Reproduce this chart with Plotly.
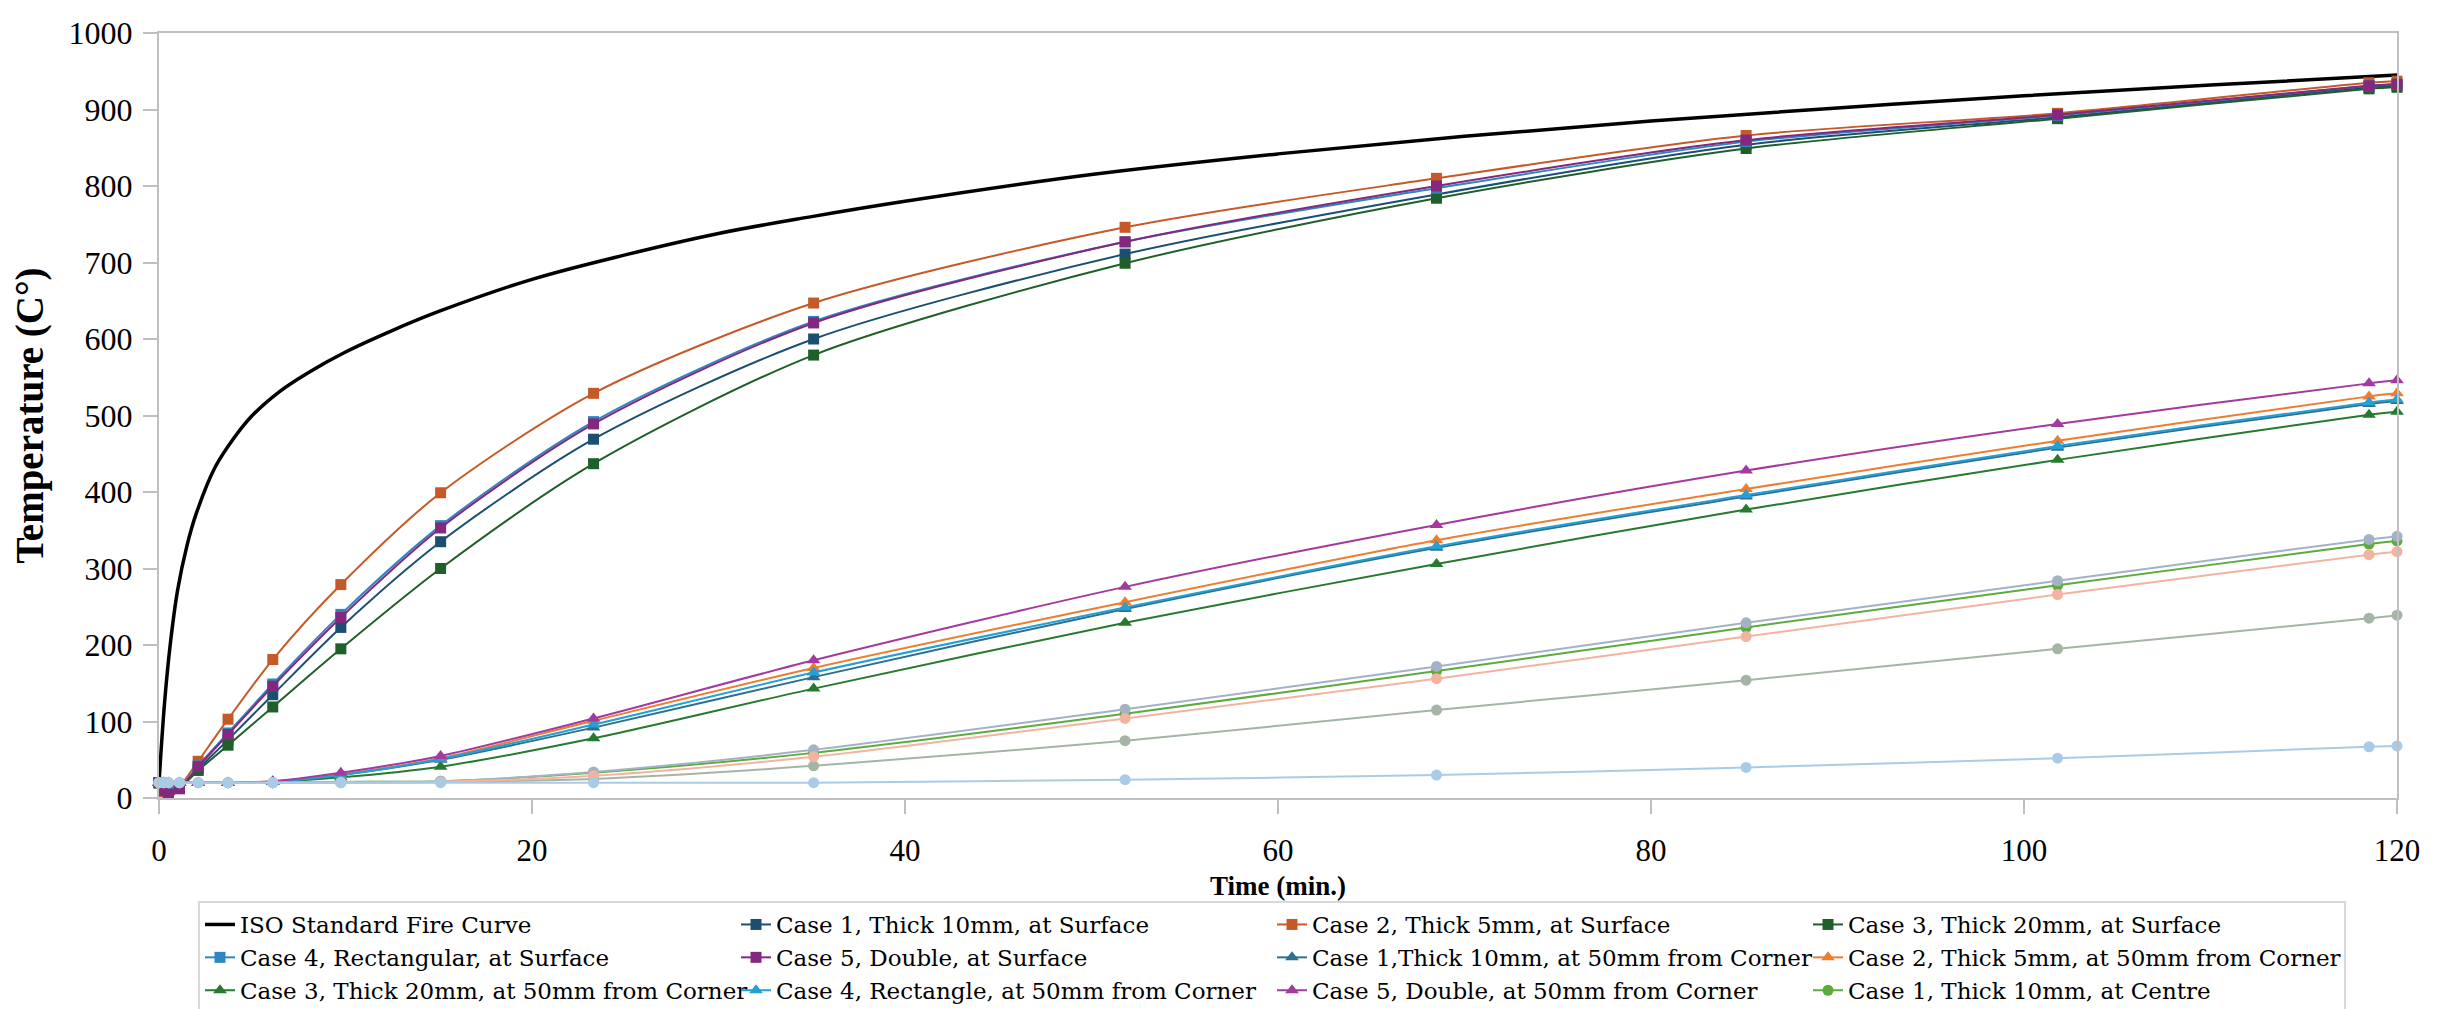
import plotly.graph_objects as go

# ---------------- data ----------------
time_iso = [0, 0.3, 0.6, 1.0, 1.5, 2, 3, 4, 5, 6.5, 8, 10, 12.5, 15, 20, 25, 30,
            35, 40, 50, 60, 70, 80, 90, 100, 110, 120]
iso_curve = [20, 125, 200, 272, 330, 372, 432, 470, 500, 532, 556, 583, 611, 636,
             678, 710, 738, 760, 780, 815, 842, 865, 885, 902, 918, 932, 945]

time_min = [0, 0.25, 0.5, 1.1, 2.1, 3.7, 6.1, 9.75, 15.1, 23.3, 35.1, 51.8, 68.5,
            85.1, 101.8, 118.5, 120]

case1_surface = [20, 12, 8, 13, 38, 76, 135, 223, 335, 469, 600, 711, 789, 854, 890, 929, 931]
case2_surface = [20, 8, -2, 14, 48, 103, 181, 279, 399, 529, 647, 746, 810, 866, 895, 935, 937]
case3_surface = [20, 12, 8, 13, 36, 69, 119, 195, 300, 437, 579, 699, 784, 849, 888, 927, 929]
case4_surface = [20, 12, 8, 13, 42, 85, 149, 240, 356, 492, 623, 727, 797, 858, 892, 931, 933]
case5_surface = [20, 10, 5, 12, 41, 83, 146, 236, 353, 489, 621, 727, 800, 860, 893, 931, 933]

case1_corner = [20, 20, 20, 20, 20, 20, 21, 30, 50, 92, 158, 247, 327, 394, 458, 515, 519]
case2_corner = [20, 20, 20, 20, 20, 20, 22, 31, 52, 101, 170, 256, 337, 404, 467, 525, 529]
case3_corner = [20, 20, 20, 20, 20, 20, 21, 27, 41, 78, 143, 229, 306, 377, 442, 501, 505]
case4_corner = [20, 20, 20, 20, 20, 20, 21, 30, 51, 96, 164, 249, 329, 396, 460, 517, 521]
case5_corner = [20, 20, 20, 20, 20, 20, 22, 33, 55, 104, 180, 276, 357, 428, 489, 542, 546]

case1_centre = [20, 20, 20, 20, 20, 20, 20, 21, 22, 33, 59, 110, 166, 223, 278, 332, 336]
case2_centre = [20, 20, 20, 20, 20, 20, 20, 21, 22, 34, 63, 116, 172, 229, 284, 338, 342]
case3_centre = [20, 20, 20, 20, 20, 20, 20, 20, 21, 25, 42, 75, 115, 154, 195, 235, 239]
case4_centre = [20, 20, 20, 20, 20, 20, 20, 20, 21, 29, 54, 104, 156, 211, 266, 318, 322]
case5_centre = [20, 20, 20, 20, 20, 20, 20, 20, 20, 20, 20, 24, 30, 40, 52, 67, 68]

x_ticks = [0, 20, 40, 60, 80, 100, 120]
y_ticks = [0, 100, 200, 300, 400, 500, 600, 700, 800, 900, 1000]

# (name, values, colour, marker symbol, show in legend)
series = [
    ("Case 1, Thick 10mm, at Surface", case1_surface, "#1B4F72", "square", True),
    ("Case 2, Thick 5mm, at Surface", case2_surface, "#C55A28", "square", True),
    ("Case 3, Thick 20mm, at Surface", case3_surface, "#1F5F2A", "square", True),
    ("Case 4, Rectangular, at Surface", case4_surface, "#2E86C1", "square", True),
    ("Case 5, Double, at Surface", case5_surface, "#83287E", "square", True),
    ("Case 1,Thick 10mm, at 50mm from Corner", case1_corner, "#2D6E91", "triangle-up", True),
    ("Case 2, Thick 5mm, at 50mm from Corner", case2_corner, "#ED7D31", "triangle-up", True),
    ("Case 3, Thick 20mm, at 50mm from Corner", case3_corner, "#267A2E", "triangle-up", True),
    ("Case 4, Rectangle, at 50mm from Corner", case4_corner, "#22A0D8", "triangle-up", True),
    ("Case 5, Double, at 50mm from Corner", case5_corner, "#A43A9F", "triangle-up", True),
    ("Case 1, Thick 10mm, at Centre", case1_centre, "#5CAB3C", "circle", True),
    ("Case 2, Thick 5mm, at Centre", case2_centre, "#A3B3C3", "circle", False),
    ("Case 3, Thick 20mm, at Centre", case3_centre, "#A5B5A5", "circle", False),
    ("Case 4, Rectangle, at Centre", case4_centre, "#F4B3A1", "circle", False),
    ("Case 5, Double, at Centre", case5_centre, "#A9CBE8", "circle", False),
]

FONT = "Liberation Serif"
LEG_FONT = "DejaVu Serif"

fig = go.Figure()
fig.add_trace(go.Scatter(
    x=time_iso, y=iso_curve, name="ISO Standard Fire Curve", mode="lines",
    line=dict(color="#000000", width=3.5, shape="spline", smoothing=1.0),
    cliponaxis=False,
))
for name, vals, col, sym, show in series:
    size = 12 if sym == "triangle-up" else 11
    fig.add_trace(go.Scatter(
        x=time_min, y=vals, name=name, mode="lines+markers",
        line=dict(color=col, width=2, shape="spline", smoothing=0.8),
        marker=dict(symbol=sym, size=size, color=col),
        showlegend=show, cliponaxis=False,
    ))

fig.update_layout(
    width=2437, height=1009,
    margin=dict(l=151, r=48, t=25, b=219),
    paper_bgcolor="white", plot_bgcolor="white",
    font=dict(family=FONT, color="#000000", size=28),
    showlegend=True,
    legend=dict(
        orientation="h",
        xref="container", x=190 / 2437, xanchor="left",
        yref="container", y=1 - 893 / 1009, yanchor="top",
        entrywidth=491, entrywidthmode="pixels", itemwidth=30,
        font=dict(family=LEG_FONT, size=23, color="#000000"),
        bordercolor="#D9D9D9", borderwidth=2, bgcolor="white",
        tracegroupgap=0,
    ),
    xaxis=dict(
        range=[0, 120], tickvals=x_ticks, ticktext=[str(v) for v in x_ticks],
        showgrid=False, zeroline=False, automargin=False,
        showline=True, linecolor="#BFBFBF", linewidth=2, mirror=True,
        ticks="outside", ticklen=14, tickcolor="#BFBFBF", tickwidth=2,
        ticklabelstandoff=10,
        tickfont=dict(family=FONT, size=31, color="#000000"),
        title=dict(text="<b>Time (min.)</b>", font=dict(family=FONT, size=27),
                   standoff=12),
    ),
    yaxis=dict(
        range=[0, 1000], tickvals=y_ticks, ticktext=[str(v) for v in y_ticks],
        showgrid=False, zeroline=False, automargin=False,
        showline=True, linecolor="#BFBFBF", linewidth=2, mirror=True,
        ticks="outside", ticklen=14, tickcolor="#BFBFBF", tickwidth=2,
        ticklabelstandoff=4,
        tickfont=dict(family=FONT, size=32, color="#000000"),
        title=dict(text="<b>Temperature (C°)</b>", font=dict(family=FONT, size=39),
                   standoff=16),
    ),
)

fig.write_html("out.html")
